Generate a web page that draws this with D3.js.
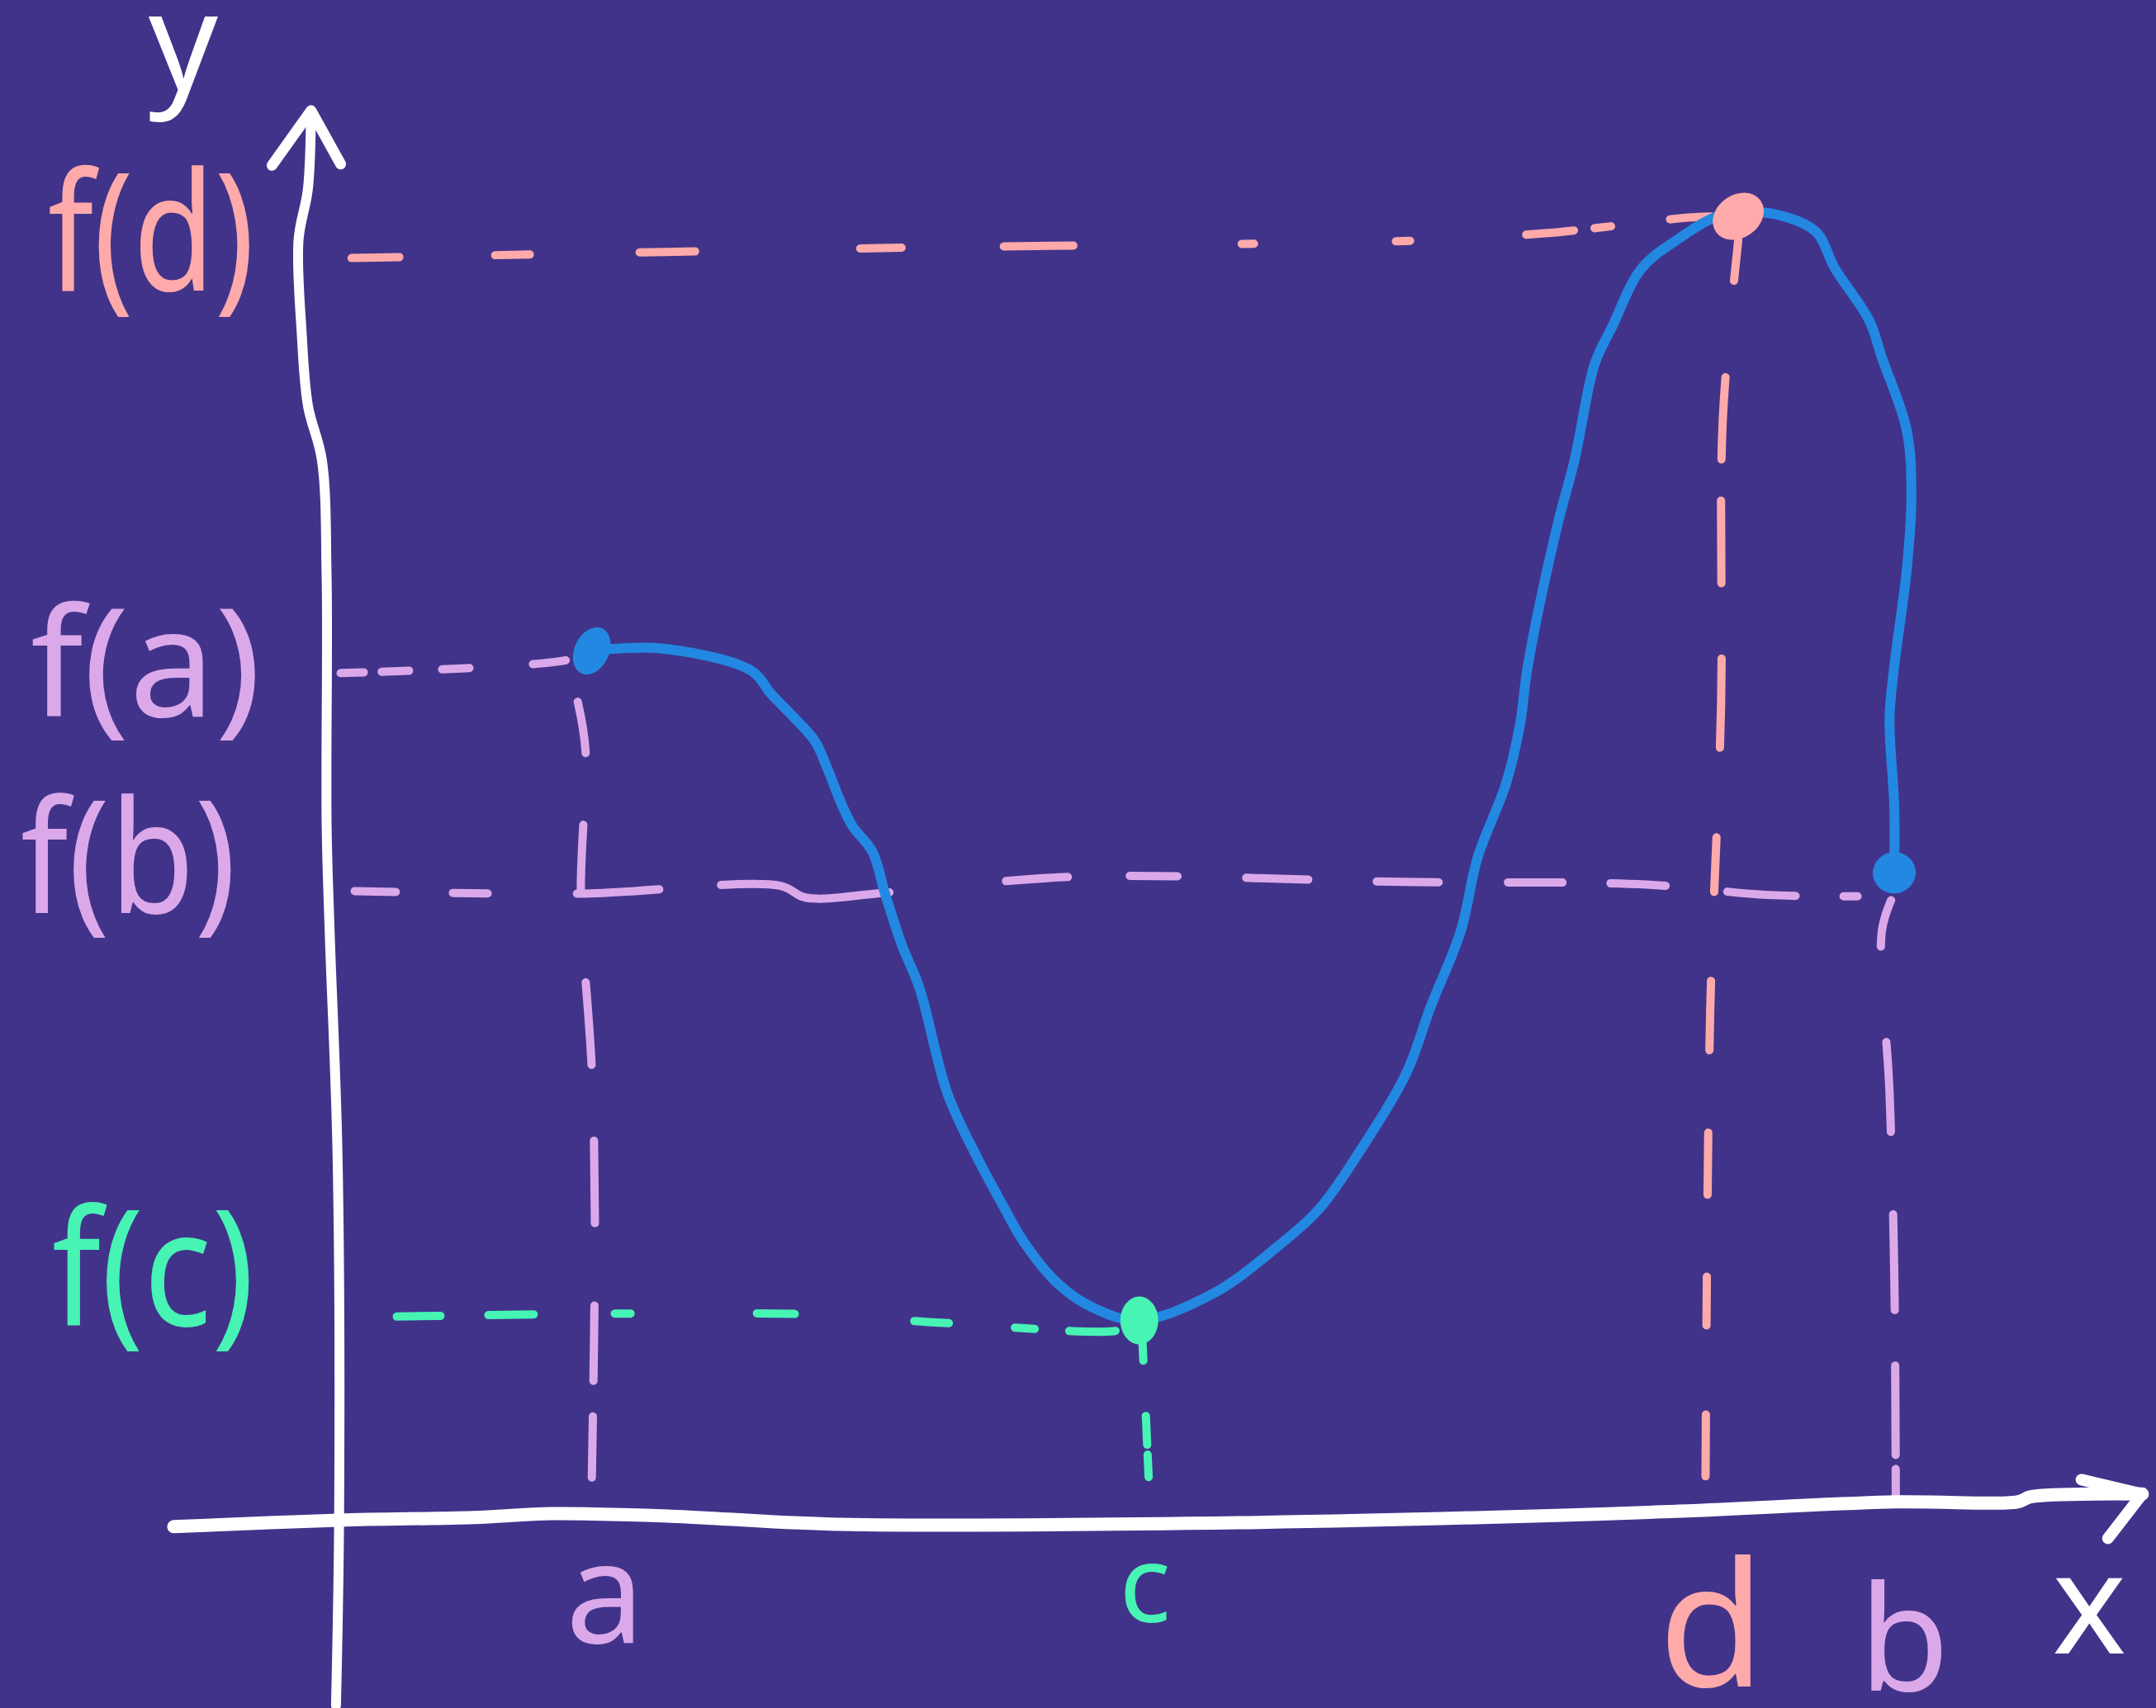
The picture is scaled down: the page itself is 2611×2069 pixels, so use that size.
<!DOCTYPE html>
<html>
<head>
<meta charset="utf-8">
<script src="https://cdn.jsdelivr.net/npm/d3@7"></script>
<style>
    html, body { margin: 0; padding: 0; background: #41338a; }
    svg { display: block; }
    text { font-family: "Noto Sans", "DejaVu Sans", sans-serif; }
</style>
</head>
<body>
<div id="chart"></div>
<script>
(function () {
    'use strict';

    // named points on the curve, in the sketch's own units
    var pointNames = ['a', 'c', 'd', 'b'];
    var pointX = [1.65, 5.16, 9.00, 10.00];
    var pointY = [6.67, 1.54, 10.00, 4.97];

    // the hand drawn f(x)
    var curveX = [1.65, 2.08, 2.67, 2.80, 2.93, 3.08, 3.16, 3.25, 3.32, 3.45,
        3.53, 3.64, 3.75, 3.93, 4.12, 4.30, 4.42, 4.64, 4.86, 5.16,
        5.64, 6.05, 6.31, 6.57, 6.87, 7.03, 7.22, 7.33, 7.51, 7.60,
        7.65, 7.84, 7.95, 8.08, 8.19, 8.38, 8.62, 8.87, 9.00, 9.16,
        9.49, 9.62, 9.84, 9.92, 10.08, 10.11, 10.08, 10.00, 9.97, 10.00, 10.00];
    var curveY = [6.67, 6.69, 6.52, 6.34, 6.18, 5.98, 5.77, 5.50, 5.33, 5.13,
        4.81, 4.41, 4.09, 3.28, 2.79, 2.39, 2.14, 1.82, 1.64, 1.54,
        1.75, 2.11, 2.39, 2.83, 3.43, 3.95, 4.52, 5.09, 5.65, 6.10,
        6.55, 7.63, 8.13, 8.87, 9.15, 9.60, 9.83, 10.00, 10.00, 10.03,
        9.89, 9.60, 9.20, 8.92, 8.36, 7.85, 7.29, 6.55, 6.15, 5.48, 4.97];

    // guide lines (wobbly, as drawn)
    var fdAcrossX = [0.11, 3.68, 5.90, 6.85, 7.76, 8.68, 8.87];
    var fdAcrossY = [9.68, 9.76, 9.79, 9.81, 9.87, 9.99, 10.00];
    var fdDownX = [9.00, 8.90, 8.89, 8.82, 8.79];
    var fdDownY = [9.82, 8.42, 6.27, 3.90, 0.28];
    var faAcrossX = [0.04, 1.49, 1.65];
    var faAcrossY = [6.50, 6.60, 6.67];
    var faDownX = [1.56, 1.61, 1.58, 1.65, 1.67, 1.65];
    var faDownY = [6.28, 5.90, 4.79, 3.46, 2.27, 0.33];
    var fbAcrossX = [0.13, 1.58, 2.86, 3.02, 3.56, 4.75, 6.86, 8.41, 9.19, 9.80];
    var fbAcrossY = [4.83, 4.81, 4.87, 4.78, 4.82, 4.94, 4.90, 4.88, 4.80, 4.79];
    var fbDownX = [9.98, 9.92, 9.97, 10.00, 10.01];
    var fbDownY = [4.76, 4.52, 3.28, 1.92, 0.18];
    var fcAcrossX = [0.40, 2.95, 3.93, 5.01, 5.16];
    var fcAcrossY = [1.57, 1.59, 1.52, 1.46, 1.51];
    var fcDownX = [5.18, 5.22];
    var fcDownY = [1.39, 0.34];

    // axes, also drawn by hand
    var yAxisX = [0.01, 0.03, 0.02, -0.03, -0.05, -0.05, -0.08, -0.17, -0.21, -0.23, -0.17, -0.15];
    var yAxisY = [-1.41, 0.03, 2.80, 4.50, 5.34, 7.23, 8.13, 8.55, 9.11, 9.82, 10.21, 10.81];
    var yHeadX = [-0.40, -0.15, 0.04];
    var yHeadY = [10.39, 10.81, 10.40];
    var xAxisX = [-1.03, 0.03, 0.89, 1.40, 2.16, 3.18, 5.80, 8.43, 10.01, 10.79, 10.88, 11.59];
    var xAxisY = [-0.04, 0.01, 0.03, 0.06, 0.04, -0.02, -0.01, 0.07, 0.15, 0.15, 0.19, 0.21];
    var xHeadX = [11.20, 11.59, 11.37];
    var xHeadY = [0.32, 0.21, -0.13];

    var PINK = '#ffaaaa', LILAC = '#dba9e9', MINT = '#47f4b4', BLUE = '#2388e2', WHITE = '#ffffff';
    var pointColor = { a: BLUE, c: MINT, d: PINK, b: BLUE };
    var labelColor = { a: LILAC, c: MINT, d: PINK, b: LILAC };

    var zip = function (xs, ys) {
        return xs.map(function (x, i) { return [x, ys[i]]; });
    };

    var guides = [
        { pts: zip(fdAcrossX, fdAcrossY), color: PINK, dash: '58 116 42 133 67 200 50 124 84 204 15 172 17 141 58 25 20 72 50 600' },
        { pts: zip(fdDownX, fdDownY), color: PINK, dash: '50 117 100 50 100 91 108 109 66 108 84 100 75 99 59 108 75 600' },
        { pts: zip(faAcrossX, faAcrossY), color: LILAC, dash: '28 22 33 40 33 77 40 600' },
        { pts: zip(faDownX, faDownY), color: LILAC, dash: '63 87 83 108 100 92 100 100 91 43 74 600' },
        { pts: zip(fbAcrossX, fbAcrossY), color: LILAC, dash: '50 69 42 108 100 75 208 142 75 75 58 83 75 83 75 84 66 58 67 75 83 58 17 600' },
        { pts: zip(fbDownX, fbDownY), color: LILAC, dash: '58 116 109 100 116 67 108 17 33 600' },
        { pts: zip(fcAcrossX, fcAcrossY), color: MINT, dash: '53 58 55 98 19 153 46 145 42 80 24 42 56 600' },
        { pts: zip(fcDownX, fcDownY), color: MINT, dash: '25 67 35 12 30 600' }
    ];

    var width = 2611, height = 2069;
    var x = d3.scaleLinear().domain([0, 10]).range([405, 2294]);
    var y = d3.scaleLinear().domain([0, 10]).range([1843, 262]);

    var svg = d3.select('#chart').append('svg')
        .attr('width', width)
        .attr('height', height)
        .attr('viewBox', '0 0 ' + width + ' ' + height);
    svg.append('rect').attr('width', width).attr('height', height).attr('fill', '#41338a');

    var smooth = d3.line()
        .x(function (d) { return x(d[0]); })
        .y(function (d) { return y(d[1]); })
        .curve(d3.curveCatmullRom.alpha(0.5));
    var straight = d3.line()
        .x(function (d) { return x(d[0]); })
        .y(function (d) { return y(d[1]); });

    var stroke = function (sel, color, w) {
        return sel.attr('fill', 'none')
            .attr('stroke', color)
            .attr('stroke-width', w)
            .attr('stroke-linecap', 'round')
            .attr('stroke-linejoin', 'round');
    };

    // dashed guides
    svg.selectAll('.guide')
        .data(guides)
        .enter()
        .append('path')
        .attr('class', 'guide')
        .attr('d', function (d) { return smooth(d.pts); })
        .call(stroke, function (d) { return d.color; }, 10)
        .attr('stroke-dasharray', function (d) { return d.dash; });

    // axes
    stroke(svg.append('path').attr('d', smooth(zip(yAxisX, yAxisY))), WHITE, 12);
    stroke(svg.append('path').attr('d', straight(zip(yHeadX, yHeadY))), WHITE, 13);
    stroke(svg.append('path').attr('d', smooth(zip(xAxisX, xAxisY))), WHITE, 16);
    stroke(svg.append('path').attr('d', straight(zip(xHeadX, xHeadY))), WHITE, 14);

    // the curve
    stroke(svg.append('path').attr('d', smooth(zip(curveX, curveY))), BLUE, 12);

    // dots at a, c, d, b
    var dotShape = { a: [21, 30, 25], c: [23, 29, 0], d: [33, 26, -35], b: [26, 25, -10] };
    svg.selectAll('.dot')
        .data(pointNames)
        .enter()
        .append('ellipse')
        .attr('class', 'dot')
        .attr('rx', function (n) { return dotShape[n][0]; })
        .attr('ry', function (n) { return dotShape[n][1]; })
        .attr('transform', function (n, i) {
            return 'translate(' + x(pointX[i]) + ',' + y(pointY[i]) + ') rotate(' + dotShape[n][2] + ')';
        })
        .attr('fill', function (n) { return pointColor[n]; });

    // f(..) labels left of the y axis: [left edge from axis, drop below value, width, font size]
    var fLayout = { d: [347, 90, 250, 200], a: [368, 80, 279, 182], b: [380, 49, 261, 190], c: [342, 6, 245, 195] };
    svg.selectAll('.flabel')
        .data(pointNames)
        .enter()
        .append('text')
        .attr('class', 'flabel')
        .attr('x', function (n) { return x(0) - fLayout[n][0]; })
        .attr('y', function (n, i) { return y(pointY[i]) + fLayout[n][1]; })
        .attr('font-size', function (n) { return fLayout[n][3]; })
        .attr('textLength', function (n) { return fLayout[n][2]; })
        .attr('lengthAdjust', 'spacingAndGlyphs')
        .attr('fill', function (n) { return labelColor[n]; })
        .text(function (n) { return 'f(' + n + ')'; });

    // letters under the x axis: [shift, baseline below axis, font size]
    var xLayout = { a: [16, 147, 170], c: [7, 122, 130], d: [-32, 200, 210], b: [12, 205, 178] };
    svg.selectAll('.xlabel')
        .data(pointNames)
        .enter()
        .append('text')
        .attr('class', 'xlabel')
        .attr('x', function (n, i) { return x(pointX[i]) + xLayout[n][0]; })
        .attr('y', function (n) { return y(0) + xLayout[n][1]; })
        .attr('text-anchor', 'middle')
        .attr('font-size', function (n) { return xLayout[n][2]; })
        .attr('fill', function (n) { return labelColor[n]; })
        .text(function (n) { return n; });

    // axis names
    svg.append('text')
        .attr('x', x(-0.97)).attr('y', 108)
        .attr('text-anchor', 'middle')
        .attr('font-size', 165)
        .attr('fill', WHITE)
        .text('y');
    svg.append('text')
        .attr('x', x(11.25)).attr('y', y(0) + 160)
        .attr('text-anchor', 'middle')
        .attr('font-size', 170)
        .attr('fill', WHITE)
        .text('x');
}());
</script>
</body>
</html>
